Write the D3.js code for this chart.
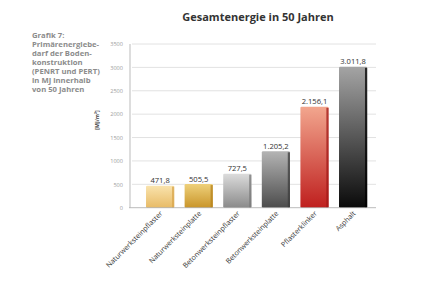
<!DOCTYPE html>
<html>
<head>
<meta charset="utf-8">
<script src="https://cdn.jsdelivr.net/npm/d3@7"></script>
<style>
  body { margin: 0; background: #fff; }
  svg { display: block; font-family: "Open Sans", "Noto Sans", sans-serif; }
</style>
</head>
<body>
<svg width="440" height="293"></svg>
<script>
// data
const categories = ["Naturwerksteinpflaster", "Naturwerksteinplatte", "Betonwerksteinpflaster",
                    "Betonwerksteinplatte", "Pflasterklinker", "Asphalt"];
const values = [471.8, 505.5, 727.5, 1205.2, 2156.1, 3011.8];
const valueLabels = ["471,8", "505,5", "727,5", "1.205,2", "2.156,1", "3.011,8"];
const yTicks = [0, 500, 1000, 1500, 2000, 2500, 3000, 3500];
const noteLines = ["Grafik 7:", "Primärenergiebe-", "darf der Boden-", "konstruktion",
                   "(PENRT und PERT)", "in MJ innerhalb", "von 50 Jahren"];

// gradient colours per bar: [top, bottom, side]
const barColors = [
  ["#f9e3ad", "#e8bb66", "#d8a54c"],
  ["#eed07a", "#c9952a", "#b5821c"],
  ["#dcdcdc", "#8a8a8a", "#777"],
  ["#b4b4b4", "#4c4c4c", "#3c3c3c"],
  ["#f2a68e", "#bf1f1e", "#a01515"],
  ["#a4a4a4", "#0a0a0a", "#000"]
];

var svg = d3.select("svg");

var x0 = 130, x1 = 376;
var yScale = d3.scaleLinear().domain([0, 3500]).range([207.7, 44]);
var xScale = d3.scaleBand().domain(categories).range([135.6, 377.6])
  .paddingInner(0.27).paddingOuter(0.27);

// gradients
var defs = svg.append("defs");
barColors.forEach((c, i) => {
  var g = defs.append("linearGradient").attr("id", "g" + i)
    .attr("x1", 0).attr("y1", 0).attr("x2", 0).attr("y2", 1);
  g.append("stop").attr("offset", "0%").attr("stop-color", c[0]);
  g.append("stop").attr("offset", "100%").attr("stop-color", c[1]);
});

// title
svg.append("text")
  .attr("x", 258).attr("y", 21)
  .attr("text-anchor", "middle")
  .style("font-size", "11px").style("font-weight", "bold").style("fill", "#333")
  .text("Gesamtenergie in 50 Jahren");

// side note
svg.append("text")
  .attr("x", 32).attr("y", 37.5)
  .style("font-size", "7.7px").style("font-weight", "bold").style("fill", "#8c8c8c")
  .selectAll("tspan").data(noteLines).enter().append("tspan")
  .attr("x", 32).attr("dy", (d, i) => i ? 9 : 0)
  .text(d => d);

// grid lines
svg.append("g").selectAll("line").data(yTicks.slice(1)).enter().append("line")
  .attr("x1", x0 + 2).attr("x2", x1)
  .attr("y1", d => yScale(d)).attr("y2", d => yScale(d))
  .style("stroke", "#e2e2e2").style("stroke-width", 1);

// y axis
var yAxis = d3.axisLeft(yScale).tickValues(yTicks).tickSize(0).tickPadding(7)
  .tickFormat(d3.format("d"));
var gy = svg.append("g").attr("transform", "translate(" + x0 + ",0)").call(yAxis);
gy.select(".domain").remove();
gy.selectAll("text").style("font-size", "5.6px").style("fill", "#a0a0a0")
  .style("font-family", "'Open Sans', sans-serif");

svg.append("line").attr("x1", x0).attr("x2", x0).attr("y1", 44).attr("y2", yScale(0))
  .style("stroke", "#aaa").style("stroke-width", 0.8);

// y label
svg.append("text")
  .attr("transform", "translate(99,120) rotate(-90)")
  .attr("text-anchor", "middle")
  .style("font-size", "5.2px").style("font-weight", "bold").style("fill", "#444")
  .text("[MJ/m²]");

// bars
var bars = svg.append("g").selectAll("g").data(values).enter().append("g");
bars.append("rect")
  .attr("x", (d, i) => xScale(categories[i]))
  .attr("y", d => yScale(d))
  .attr("width", xScale.bandwidth())
  .attr("height", d => yScale(0) - yScale(d))
  .attr("rx", 1.2)
  .style("fill", (d, i) => "url(#g" + i + ")");
bars.append("rect")
  .attr("x", (d, i) => xScale(categories[i]) + xScale.bandwidth() - 2.2)
  .attr("y", d => yScale(d) + 1)
  .attr("width", 2.2)
  .attr("height", d => yScale(0) - yScale(d) - 1)
  .style("fill", (d, i) => barColors[i][2])
  .style("opacity", 0.75);

// value labels
bars.append("text")
  .attr("x", (d, i) => xScale(categories[i]) + xScale.bandwidth() / 2)
  .attr("y", d => yScale(d) - 2.5)
  .attr("text-anchor", "middle")
  .style("font-size", "7.6px").style("fill", "#333")
  .text((d, i) => valueLabels[i]);

// x axis
svg.append("line").attr("x1", x0 - 1).attr("x2", x1).attr("y1", yScale(0)).attr("y2", yScale(0))
  .style("stroke", "#aaa").style("stroke-width", 0.8);

svg.append("g").selectAll("text").data(categories).enter().append("text")
  .attr("transform", d => "translate(" + (xScale(d) + xScale.bandwidth() / 2 + 3) + "," + 214 + ") rotate(-45)")
  .attr("text-anchor", "end")
  .style("font-size", "7.1px").style("fill", "#3a3a3a")
  .text(d => d);
</script>
</body>
</html>
